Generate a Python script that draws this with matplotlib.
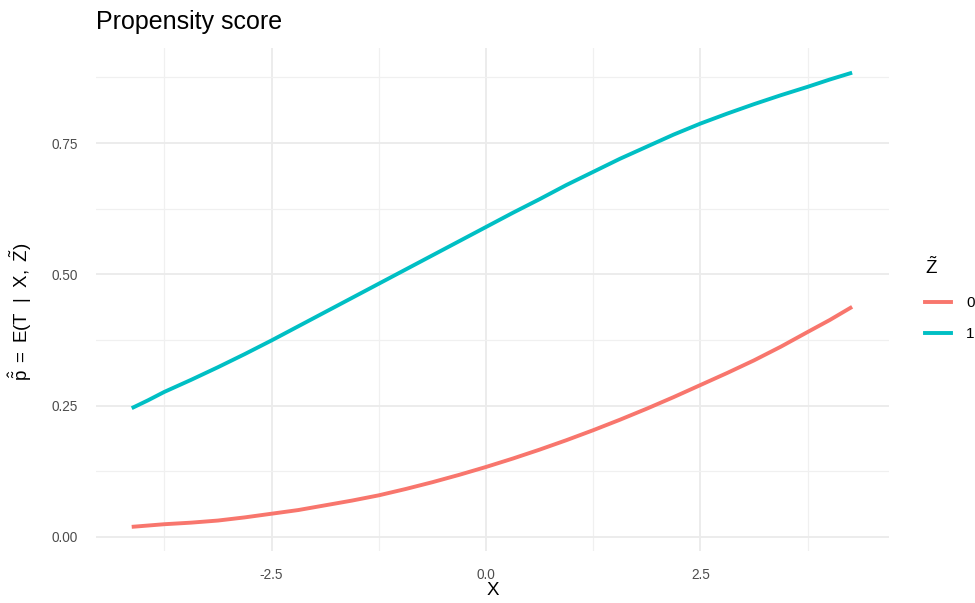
import matplotlib
matplotlib.use("Agg")
import matplotlib.pyplot as plt
from matplotlib.ticker import FixedLocator, FuncFormatter
from matplotlib.lines import Line2D

plt.rcParams["font.family"] = ["Liberation Sans", "DejaVu Sans"]
plt.rcParams["mathtext.fontset"] = "custom"
plt.rcParams["mathtext.rm"] = "Liberation Sans"
plt.rcParams["mathtext.it"] = "Liberation Sans"
plt.rcParams["mathtext.default"] = "rm"

# Fitted propensity score along X for each level of Z~
x_vals = [-4.13, -3.94, -3.75, -3.4375, -3.125, -2.8125, -2.5, -2.1875,
          -1.875, -1.5625, -1.25, -0.9375, -0.625, -0.3125, 0.0, 0.3125,
          0.625, 0.9375, 1.25, 1.5625, 1.875, 2.1875, 2.5, 2.8125,
          3.125, 3.4375, 3.75, 4.01, 4.27]
p_z0 = [0.019, 0.0215, 0.024, 0.027, 0.031, 0.037, 0.044, 0.051,
        0.060, 0.069, 0.079, 0.091, 0.104, 0.118, 0.133, 0.149,
        0.166, 0.184, 0.203, 0.223, 0.244, 0.266, 0.289, 0.312,
        0.336, 0.362, 0.390, 0.413, 0.438]
p_z1 = [0.245, 0.260, 0.276, 0.299, 0.323, 0.348, 0.374, 0.401,
        0.428, 0.455, 0.482, 0.509, 0.536, 0.563, 0.590, 0.617,
        0.643, 0.670, 0.695, 0.720, 0.743, 0.766, 0.787, 0.806,
        0.824, 0.841, 0.857, 0.871, 0.884]
z_levels = ["0", "1"]
z_colors = ["#F8766D", "#00BFC4"]

x_major = [-2.5, 0.0, 2.5]
x_minor = [-3.75, -1.25, 1.25, 3.75]
y_major = [0.0, 0.25, 0.50, 0.75]
y_minor = [0.125, 0.375, 0.625, 0.875]

W, H, DPI = 975, 603, 100
fig = plt.figure(figsize=(W / DPI, H / DPI), dpi=DPI)
left, right, top, bottom = 95.7, 889, 48, 551
ax = fig.add_axes([left / W, 1 - bottom / H, (right - left) / W, (bottom - top) / H])

for yv, col in zip([p_z0, p_z1], z_colors):
    ax.plot(x_vals, yv, color=col, lw=2.8, solid_capstyle="butt",
            solid_joinstyle="round", zorder=3)

ax.set_xlim(-4.55, 4.70)
ax.set_ylim(-0.027, 0.931)

ax.xaxis.set_major_locator(FixedLocator(x_major))
ax.xaxis.set_minor_locator(FixedLocator(x_minor))
ax.yaxis.set_major_locator(FixedLocator(y_major))
ax.yaxis.set_minor_locator(FixedLocator(y_minor))
ax.xaxis.set_major_formatter(FuncFormatter(lambda v, p: f"{v:.1f}"))
ax.yaxis.set_major_formatter(FuncFormatter(lambda v, p: f"{v:.2f}"))

ax.grid(which="major", color="#EBEBEB", lw=1.3, zorder=0)
ax.grid(which="minor", color="#F0F0F0", lw=0.9, zorder=0)
ax.set_axisbelow(True)
for s in ax.spines.values():
    s.set_visible(False)
ax.tick_params(which="both", length=0)
ax.tick_params(axis="y", pad=13, labelsize=9.8, labelcolor="#4D4D4D")
ax.tick_params(axis="x", pad=12, labelsize=9.8, labelcolor="#4D4D4D")

ax.set_title("Propensity score", loc="left", fontsize=18, pad=14, color="black")
ax.set_xlabel("X", fontsize=13.5)
ax.xaxis.set_label_coords(0.5, -0.062)
ax.set_ylabel(r"$\hat{\tilde{\mathrm{p}}}\ =\ \mathrm{E}(\mathrm{T}\ \ |\ \ \mathrm{X},\ \tilde{\mathrm{Z}})$",
              fontsize=13.5)
ax.yaxis.set_label_coords(-0.078, 0.475)

handles = [Line2D([0], [0], color=c, lw=2.8) for c in z_colors]
leg = fig.legend(handles, z_levels, title=r"$\tilde{\mathrm{Z}}$",
                 loc="upper left", bbox_to_anchor=(911 / W, 1 - 243 / H),
                 frameon=False, fontsize=11, title_fontsize=13.5,
                 handlelength=1.75, handletextpad=0.95, labelspacing=1.15,
                 alignment="left")

fig.savefig("out.png", dpi=DPI, facecolor="white")
